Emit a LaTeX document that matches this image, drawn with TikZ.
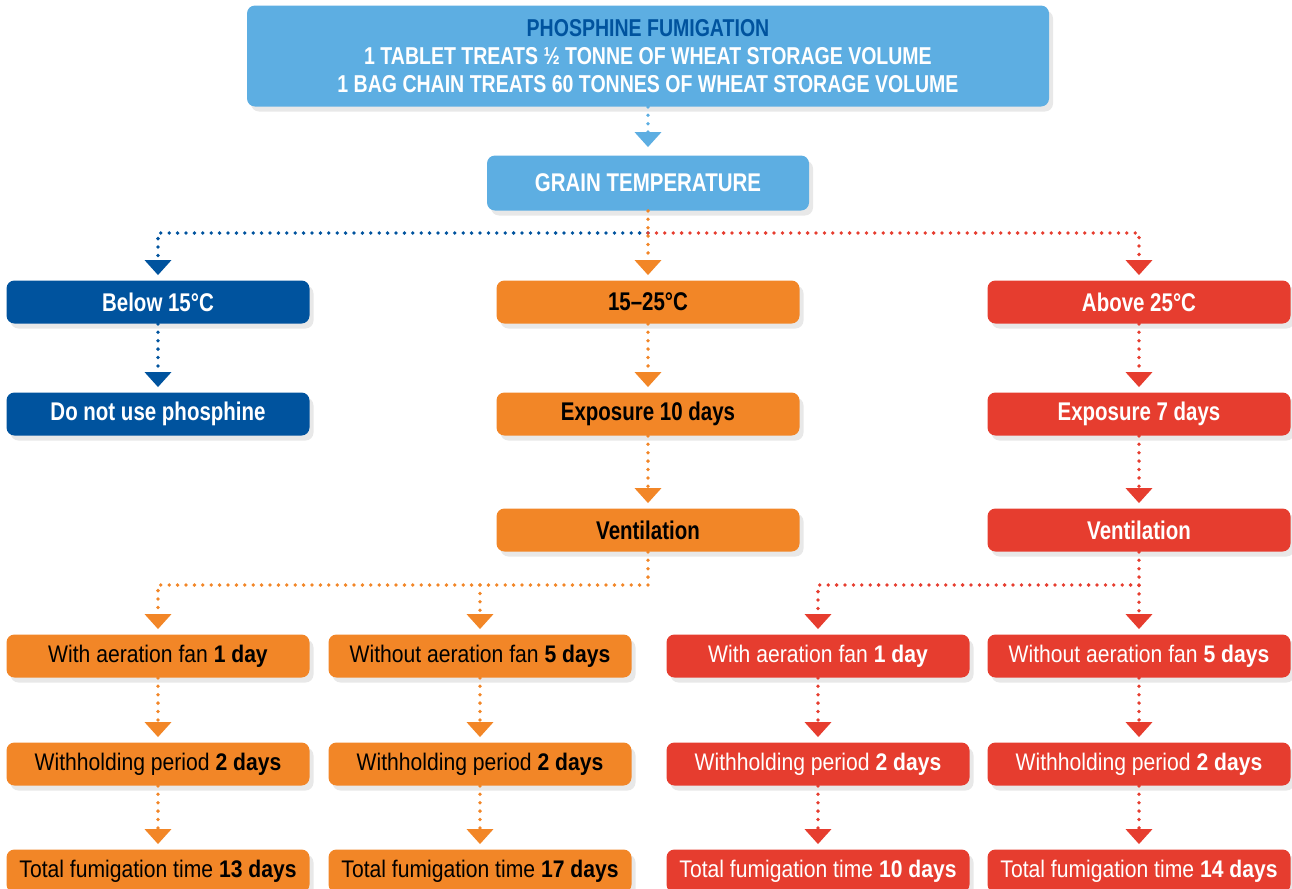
\documentclass[tikz,border=0pt]{standalone}
\usepackage{fontspec}
\setmainfont{Liberation Sans}[FakeStretch=0.88]
\newfontfamily\headfont{Liberation Sans}[FakeStretch=0.80]
\usepackage{xcolor}
\usepackage{tikz}
\usetikzlibrary{arrows.meta,shadows}
\definecolor{lblue}{RGB}{93,174,226}
\definecolor{dblue}{RGB}{0,83,158}
\definecolor{ora}{RGB}{242,134,39}
\definecolor{redd}{RGB}{230,61,47}

\begin{document}
\begin{tikzpicture}
[
x=0.5pt,y=-0.5pt,
font=\fontsize{12}{14}\selectfont,
box/.style={rounded corners=4pt,inner sep=0pt,minimum width=151.5pt,minimum height=21.5pt,
            drop shadow={opacity=0.18,shadow xshift=2pt,shadow yshift=-2.5pt}},
head/.style={font=\headfont\bfseries\fontsize{12.8}{14}\selectfont},
bbox/.style={box,fill=dblue,text=white},
obox/.style={box,fill=ora,text=black},
rbox/.style={box,fill=redd,text=white},
dots/.style={line width=1.9pt,line cap=round,dash pattern=on 0pt off 4.2pt,
             -{Triangle[width=13pt,length=7.5pt]},shorten >=2.5pt},
plain/.style={line width=1.9pt,line cap=round,dash pattern=on 0pt off 4.2pt},
]
\useasboundingbox (0,0) rectangle (1292,889);

%Place the nodes
\node[box,fill=lblue,text=white,minimum width=401pt,minimum height=50.5pt,align=center,
      font=\headfont\bfseries\fontsize{12.2}{14}\selectfont] (top) at (648,56)
  {\textcolor{dblue}{PHOSPHINE FUMIGATION}\\1 TABLET TREATS ½ TONNE OF WHEAT STORAGE VOLUME\\1 BAG CHAIN TREATS 60 TONNES OF WHEAT STORAGE VOLUME};
\node[box,head,fill=lblue,text=white,minimum width=161pt,minimum height=27.5pt] (grain) at (648,183) {GRAIN TEMPERATURE};

%row of temperatures
\node[bbox,head] (below) at (158,302) {Below 15°C};
\node[obox,head] (mid) at (648,302) {15–25°C};
\node[rbox,head] (above) at (1139,302) {Above 25°C};

\node[bbox,head] (nouse) at (158,414) {Do not use phosphine};
\node[obox,head] (expo) at (648,414) {Exposure 10 days};
\node[rbox,head] (expr) at (1139,414) {Exposure 7 days};

\node[obox,head] (vento) at (648,530) {Ventilation};
\node[rbox,head] (ventr) at (1139,530) {Ventilation};

%fans
\node[obox] (fanoa) at (158,656) {With aeration fan \textbf{1 day}};
\node[obox] (fanob) at (480,656) {Without aeration fan \textbf{5 days}};
\node[rbox] (fanra) at (818,656) {With aeration fan \textbf{1 day}};
\node[rbox] (fanrb) at (1139,656) {Without aeration fan \textbf{5 days}};

%withholding
\node[obox] (whoa) at (158,764) {Withholding period \textbf{2 days}};
\node[obox] (whob) at (480,764) {Withholding period \textbf{2 days}};
\node[rbox] (whra) at (818,764) {Withholding period \textbf{2 days}};
\node[rbox] (whrb) at (1139,764) {Withholding period \textbf{2 days}};

%totals
\node[obox] (totoa) at (158,871) {Total fumigation time \textbf{13 days}};
\node[obox] (totob) at (480,871) {Total fumigation time \textbf{17 days}};
\node[rbox] (totra) at (818,871) {Total fumigation time \textbf{10 days}};
\node[rbox] (totrb) at (1139,871) {Total fumigation time \textbf{14 days}};

\coordinate (split) at (648,233);
\coordinate (osplit) at (648,585);
\coordinate (rsplit) at (1139,585);

%connections
\draw[dots,lblue,shorten >=4pt] (top) -- (grain);
%temperature split
\draw[dots,dblue] (split) -| (below);
\draw[dots,redd] (split) -| (above);
\draw[dots,ora] (grain) -- (mid);
%blue column
\draw[dots,dblue] (below) -- (nouse);
%orange column
\draw[dots,ora] (mid) -- (expo);
\draw[dots,ora] (expo) -- (vento);
\draw[plain,ora] (vento) -- (osplit);
\draw[dots,ora] (osplit) -| (fanoa);
\draw[dots,ora] (osplit -| fanob) -- (fanob);
\draw[dots,ora] (fanoa) -- (whoa);
\draw[dots,ora] (fanob) -- (whob);
\draw[dots,ora] (whoa) -- (totoa);
\draw[dots,ora] (whob) -- (totob);
%red column
\draw[dots,redd] (above) -- (expr);
\draw[dots,redd] (expr) -- (ventr);
\draw[dots,redd] (ventr) -- (fanrb);
\draw[dots,redd] (rsplit) -| (fanra);
\draw[dots,redd] (fanra) -- (whra);
\draw[dots,redd] (fanrb) -- (whrb);
\draw[dots,redd] (whra) -- (totra);
\draw[dots,redd] (whrb) -- (totrb);
\end{tikzpicture}
\end{document}
